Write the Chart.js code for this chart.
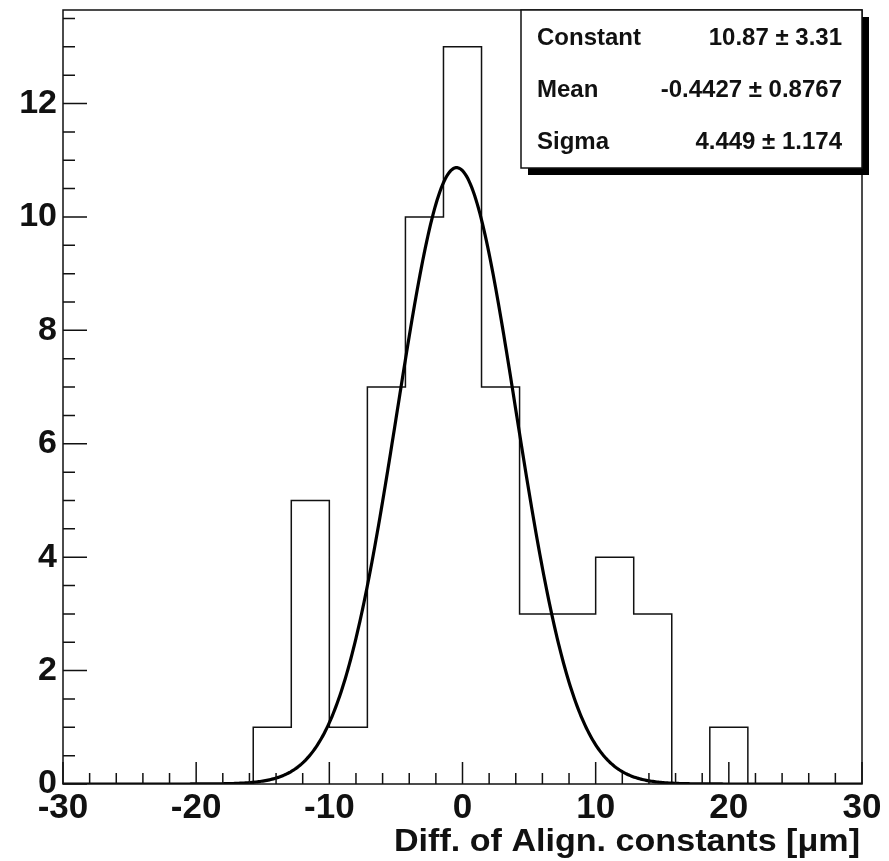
<!DOCTYPE html>
<html lang="en">
<head>
  <meta charset="UTF-8">
  <title>Diff. of Align. constants</title>
  <script src="https://cdn.jsdelivr.net/npm/chart.js@4.4.0/dist/chart.umd.min.js"></script>
  <style>
    body { margin: 0; background: #fff; }
    #wrap { width: 889px; height: 861px; }
  </style>
</head>
<body>
  <div id="wrap"><canvas id="histo" width="889" height="861"></canvas></div>

  <script>
    // histogram: 21 bins from -30 to 30
    const xRange = [-30, 30];
    const nBins = 21;
    const binCounts = [0, 0, 0, 0, 0, 1, 5, 1, 7, 10, 13, 7, 3, 3, 4, 3, 0, 1, 0, 0, 0];
    const yMax = 13.65;
    const xTickValues = [-30, -20, -10, 0, 10, 20, 30];
    const yTickValues = [0, 2, 4, 6, 8, 10, 12];
    const xTitle = 'Diff. of Align. constants [\u03bcm]';

    // gaussian fit parameters (from the stats box)
    const fitConstant = 10.87;
    const fitMean = -0.4427;
    const fitSigma = 4.449;
    const statLabels = ['Constant', 'Mean', 'Sigma'];
    const statValues = ['10.87 \u00b1 3.31', '-0.4427 \u00b1 0.8767', '4.449 \u00b1 1.174'];

    const binW = (xRange[1] - xRange[0]) / nBins;
    const histPts = [];
    binCounts.forEach((c, i) => {
      const lo = xRange[0] + i * binW;
      histPts.push({ x: lo, y: c });
      histPts.push({ x: lo + binW, y: c });
    });

    const fitPts = [];
    for (let i = 0; i <= 600; i++) {
      const x = xRange[0] + i * (xRange[1] - xRange[0]) / 600;
      fitPts.push({ x: x, y: fitConstant * Math.exp(-0.5 * ((x - fitMean) / fitSigma) ** 2) });
    }

    const FONT = '"Liberation Sans", Arial, Helvetica, sans-serif';

    function stretchText(ctx, txt, x, y, align, sx) {
      ctx.save();
      ctx.translate(x, y);
      ctx.scale(sx, 1);
      ctx.textAlign = align;
      ctx.fillText(txt, 0, 0);
      ctx.restore();
    }

    // frame, inward ticks, x labels, title and the stats box
    const rootStyle = {
      id: 'rootStyle',
      afterDatasetsDraw(chart) {
        const { ctx, chartArea: a, scales } = chart;
        const xs = scales.x, ys = scales.y;
        ctx.save();
        ctx.strokeStyle = '#111';
        ctx.lineWidth = 1.5;
        ctx.strokeRect(a.left, a.top, a.right - a.left, a.bottom - a.top);
        ctx.beginPath();
        for (let v = xRange[0]; v <= xRange[1] + 1e-9; v += 2) {
          const px = xs.getPixelForValue(v);
          const len = Math.abs(v % 10) < 1e-6 ? 22 : 11;
          ctx.moveTo(px, a.bottom);
          ctx.lineTo(px, a.bottom - len);
        }
        for (let v = 0; v <= yMax; v += 0.5) {
          const py = ys.getPixelForValue(v);
          const len = Math.abs(v % 2) < 1e-6 ? 24 : 12;
          ctx.moveTo(a.left, py);
          ctx.lineTo(a.left + len, py);
        }
        ctx.stroke();

        // x tick labels and axis title
        ctx.fillStyle = '#111';
        ctx.textBaseline = 'alphabetic';
        ctx.font = 'bold 35px ' + FONT;
        xTickValues.forEach(v => {
          stretchText(ctx, String(v), xs.getPixelForValue(v), a.bottom + 34, 'center', 1.0);
        });
        ctx.font = 'bold 31px ' + FONT;
        stretchText(ctx, xTitle, a.right - 2, a.bottom + 67, 'right', 1.1);

        // stats box
        const bw = 341, bh = 158;
        const bx = a.right - bw, by = a.top;
        ctx.fillStyle = '#000';
        ctx.fillRect(bx + 7, by + 7, bw, bh);
        ctx.fillStyle = '#fff';
        ctx.fillRect(bx, by, bw, bh);
        ctx.lineWidth = 1.5;
        ctx.strokeRect(bx, by, bw, bh);
        ctx.fillStyle = '#111';
        ctx.font = 'bold 24px ' + FONT;
        ctx.textBaseline = 'middle';
        statLabels.forEach((lab, i) => {
          const ty = by + 28 + i * 52;
          ctx.textAlign = 'left';
          ctx.fillText(lab, bx + 16, ty);
          ctx.textAlign = 'right';
          ctx.fillText(statValues[i], bx + 321, ty);
        });
        ctx.restore();
      }
    };

    new Chart(document.getElementById('histo'), {
      type: 'line',
      data: {
        datasets: [
          {
            label: 'gaus',
            data: fitPts,
            borderColor: '#000',
            borderWidth: 3.2,
            pointRadius: 0,
            tension: 0,
            fill: false
          },
          {
            label: 'histogram',
            data: histPts,
            borderColor: '#111',
            borderWidth: 1.5,
            pointRadius: 0,
            tension: 0,
            fill: false
          }
        ]
      },
      options: {
        responsive: false,
        animation: false,
        layout: { padding: { left: 0, top: 10, right: 27, bottom: 0 } },
        plugins: { legend: { display: false }, tooltip: { enabled: false } },
        scales: {
          x: {
            type: 'linear',
            min: xRange[0],
            max: xRange[1],
            grid: { display: false, drawTicks: false },
            border: { display: false },
            afterBuildTicks(s) { s.ticks = xTickValues.map(v => ({ value: v })); },
            afterFit(s) { s.height = 77; s.paddingLeft = 0; s.paddingRight = 0; },
            ticks: { display: false }
          },
          y: {
            min: 0,
            max: yMax,
            grid: { display: false, drawTicks: false },
            border: { display: false },
            afterBuildTicks(s) { s.ticks = yTickValues.map(v => ({ value: v })); },
            afterFit(s) { s.width = 63; s.paddingTop = 0; s.paddingBottom = 0; },
            ticks: {
              color: '#111',
              padding: 6,
              autoSkip: false,
              font: { family: FONT, size: 34, weight: 'bold' }
            }
          }
        }
      },
      plugins: [rootStyle]
    });
  </script>
</body>
</html>
